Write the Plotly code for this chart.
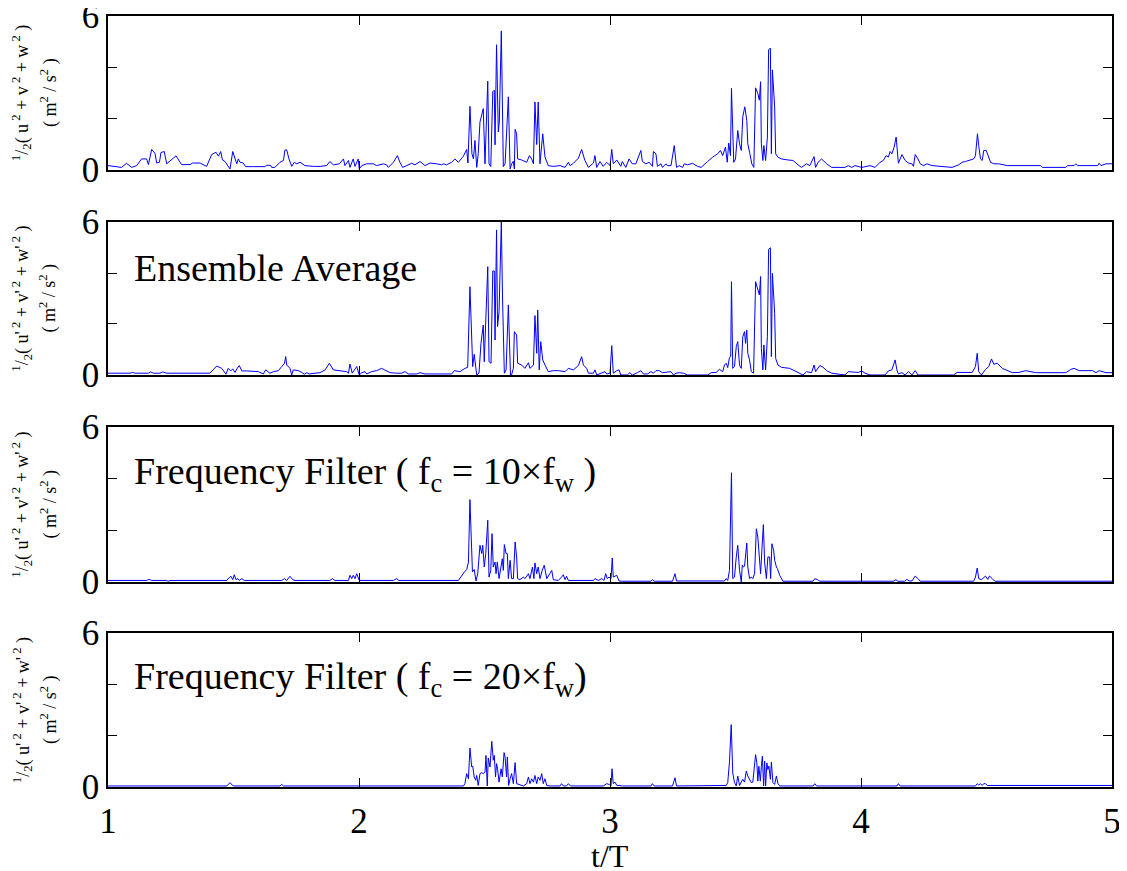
import plotly.graph_objects as go

# ---------------- data (t/T , value in m^2/s^2) ----------------
raw_pts = [(1.000,0.17),(1.035,0.14),(1.054,0.10),(1.074,0.26),(1.094,0.10),(1.114,0.17),(1.134,0.43),(1.154,0.43),(1.161,0.21),(1.174,0.80),(1.187,0.65),(1.194,0.27),(1.205,0.30),(1.211,0.68),(1.224,0.72),(1.234,0.24),(1.254,0.39),(1.271,0.55),(1.293,0.21),(1.327,0.21),(1.337,0.27),(1.367,0.27),(1.393,0.14),(1.413,0.60),(1.430,0.69),(1.440,0.54),(1.449,0.72),(1.456,0.39),(1.466,0.33),(1.486,0.04),(1.497,0.72),(1.503,0.50),(1.513,0.24),(1.519,0.43),(1.526,0.30),(1.539,0.27),(1.548,0.13),(1.579,0.13),(1.625,0.13),(1.632,0.18),(1.648,0.18),(1.652,0.10),(1.665,0.10),(1.685,0.30),(1.699,0.37),(1.705,0.78),(1.712,0.78),(1.721,0.43),(1.732,0.14),(1.742,0.30),(1.752,0.24),(1.765,0.30),(1.785,0.17),(1.818,0.14),(1.845,0.14),(1.871,0.17),(1.884,0.33),(1.898,0.20),(1.922,0.24),(1.938,0.43),(1.944,0.17),(1.958,0.37),(1.964,0.10),(1.977,0.43),(1.984,0.14),(1.997,0.43),(2.001,0.04),(2.011,0.17),(2.031,0.24),(2.057,0.24),(2.070,0.17),(2.097,0.24),(2.110,0.20),(2.117,0.10),(2.137,0.30),(2.153,0.56),(2.163,0.30),(2.174,0.10),(2.190,0.16),(2.210,0.26),(2.223,0.20),(2.243,0.33),(2.263,0.17),(2.283,0.27),(2.309,0.24),(2.329,0.20),(2.336,0.24),(2.349,0.20),(2.369,0.30),(2.382,0.43),(2.396,0.30),(2.416,0.54),(2.429,0.80),(2.434,0.27),(2.442,2.48),(2.450,0.63),(2.456,0.43),(2.462,1.15),(2.469,0.10),(2.475,0.63),(2.482,1.87),(2.489,2.13),(2.495,2.39),(2.502,0.24),(2.513,3.46),(2.518,0.24),(2.525,0.13),(2.533,3.05),(2.539,3.11),(2.542,0.98),(2.548,4.88),(2.555,1.48),(2.559,1.87),(2.567,5.42),(2.575,0.13),(2.582,0.24),(2.595,2.85),(2.602,0.04),(2.608,0.24),(2.615,0.34),(2.619,0.04),(2.622,1.58),(2.628,1.41),(2.632,0.43),(2.648,0.39),(2.668,0.30),(2.679,0.56),(2.688,0.43),(2.695,0.24),(2.701,2.65),(2.708,0.99),(2.714,2.65),(2.721,0.24),(2.732,1.41),(2.741,0.50),(2.754,0.17),(2.774,0.14),(2.801,0.17),(2.821,0.10),(2.834,0.30),(2.841,0.17),(2.854,0.26),(2.874,0.46),(2.887,0.80),(2.900,0.37),(2.914,0.10),(2.934,0.27),(2.940,0.56),(2.947,0.10),(2.960,0.33),(2.973,0.14),(2.987,0.30),(3.000,0.17),(3.007,0.80),(3.013,0.24),(3.027,0.39),
           (3.043,0.14),(3.049,0.33),(3.063,0.10),(3.076,0.43),(3.089,0.24),(3.103,0.24),(3.116,0.56),(3.123,0.76),(3.129,0.33),(3.143,0.24),(3.156,0.30),(3.169,0.14),(3.173,0.72),(3.183,0.63),(3.189,0.14),(3.203,0.24),(3.209,0.10),(3.223,0.24),(3.229,0.17),(3.243,0.17),(3.256,0.95),(3.265,0.10),(3.276,0.17),(3.289,0.10),(3.296,0.24),(3.309,0.20),(3.329,0.26),(3.349,0.14),(3.363,0.10),(3.376,0.20),(3.389,0.33),(3.409,0.50),(3.429,0.63),(3.440,0.76),(3.449,0.56),(3.460,0.89),(3.467,0.30),(3.473,1.05),(3.480,0.56),(3.484,3.18),(3.493,0.30),(3.500,0.43),(3.509,1.54),(3.516,1.02),(3.523,0.76),(3.529,2.07),(3.537,2.46),(3.545,1.93),(3.549,1.02),(3.556,0.69),(3.565,0.24),(3.573,0.10),(3.580,3.20),(3.589,2.98),(3.595,2.72),(3.600,3.44),(3.603,1.02),(3.609,0.37),(3.613,0.95),(3.620,0.37),(3.627,1.28),(3.632,4.68),(3.639,4.75),(3.643,0.63),(3.647,3.90),(3.656,2.46),(3.660,0.63),(3.669,0.50),(3.683,0.43),(3.709,0.39),(3.729,0.37),(3.749,0.20),(3.763,0.10),(3.783,0.24),(3.796,0.17),(3.813,0.52),(3.819,0.10),(3.829,0.30),(3.843,0.43),(3.863,0.24),(3.883,0.10),(3.936,0.10),(3.949,0.17),(3.963,0.10),(3.976,0.17),(4.003,0.10),(4.036,0.17),(4.056,0.10),(4.076,0.30),(4.089,0.37),(4.100,0.56),(4.109,0.50),(4.116,0.72),(4.123,0.63),(4.132,0.89),(4.140,1.28),(4.149,0.26),(4.163,0.60),(4.176,0.37),(4.189,0.27),(4.203,0.24),(4.209,0.14),(4.216,0.60),(4.227,0.43),(4.236,0.24),(4.249,0.17),(4.263,0.24),(4.283,0.17),(4.316,0.14),(4.336,0.10),(4.363,0.10),(4.389,0.20),(4.403,0.30),(4.416,0.33),(4.436,0.39),(4.449,0.43),(4.456,0.56),(4.464,1.41),(4.469,0.95),(4.476,0.43),(4.483,0.37),(4.489,0.76),(4.499,0.76),(4.507,0.50),(4.516,0.30),(4.529,0.24),(4.549,0.24),(4.583,0.17),(4.716,0.17),(4.723,0.10),(4.816,0.10),(4.823,0.17),(4.849,0.17),(4.856,0.24),(4.863,0.17),(4.943,0.17),(4.949,0.26),(4.956,0.17),(4.976,0.24),(5.000,0.24)]

ensemble_pts = [(1.000,0.07),(1.088,0.07),(1.097,0.10),(1.108,0.07),(1.161,0.07),(1.170,0.12),(1.181,0.07),(1.207,0.07),(1.218,0.12),(1.234,0.07),(1.406,0.07),(1.433,0.35),(1.453,0.26),(1.470,0.03),(1.479,0.26),(1.489,0.16),(1.497,0.24),(1.506,0.10),(1.515,0.26),(1.523,0.37),(1.533,0.16),(1.552,0.16),(1.599,0.13),(1.619,0.04),(1.628,0.20),(1.645,0.07),(1.659,0.13),(1.679,0.17),(1.692,0.33),(1.703,0.46),(1.708,0.72),(1.712,0.39),(1.725,0.26),(1.732,0.00),(1.738,0.20),(1.758,0.17),(1.772,0.10),(1.782,0.03),(1.792,0.09),(1.802,0.04),(1.825,0.07),(1.845,0.09),(1.865,0.20),(1.882,0.46),(1.898,0.20),(1.931,0.17),(1.951,0.13),(1.958,0.07),(1.964,0.43),(1.973,0.07),(1.991,0.33),(2.001,0.00),(2.011,0.09),(2.024,0.13),(2.031,0.04),(2.050,0.13),(2.070,0.17),(2.090,0.26),(2.104,0.20),(2.124,0.09),(2.150,0.07),(2.170,0.07),(2.183,0.13),(2.197,0.04),(2.230,0.04),(2.243,0.09),(2.263,0.04),(2.369,0.04),(2.380,0.17),(2.402,0.13),(2.422,0.26),(2.433,0.30),(2.442,3.46),(2.453,0.33),(2.459,0.81),(2.469,0.00),(2.478,0.07),(2.486,1.24),(2.495,1.96),(2.499,0.52),(2.513,4.25),(2.518,0.52),(2.526,0.46),(2.533,4.08),(2.539,4.08),(2.542,1.37),(2.548,5.69),(2.552,1.90),(2.558,2.48),(2.567,6.01),(2.572,2.94),(2.579,0.07),(2.586,0.20),(2.595,2.75),(2.604,-0.13),(2.611,0.07),(2.615,0.26),(2.619,1.70),(2.628,1.57),(2.632,0.46),(2.648,0.39),(2.661,0.26),(2.675,0.48),(2.681,0.26),(2.695,0.39),(2.701,2.33),(2.708,0.85),(2.712,2.55),(2.718,0.20),(2.724,1.31),(2.732,0.59),(2.741,0.39),(2.754,0.13),(2.774,0.17),(2.794,0.17),(2.821,0.13),(2.834,0.26),(2.854,0.20),(2.874,0.37),(2.887,0.72),(2.894,0.39),(2.907,0.26),(2.914,0.07),(2.934,0.07),(2.940,0.20),(2.947,0.00),(2.980,0.13),(2.987,0.04),(3.000,0.07),(3.007,1.15),(3.013,0.07),(3.027,0.17),
                (3.036,0.20),(3.043,0.00),(3.069,0.00),(3.079,0.09),(3.089,0.00),(3.109,0.09),(3.123,0.17),(3.133,0.04),(3.149,0.04),(3.163,0.13),(3.173,0.07),(3.183,0.17),(3.196,0.17),(3.209,0.09),(3.229,0.13),(3.243,0.13),(3.253,0.00),(3.263,0.07),(3.276,0.09),(3.293,0.07),(3.309,0.00),(3.389,0.00),(3.403,0.09),(3.423,0.10),(3.436,0.22),(3.449,0.13),(3.456,0.39),(3.463,0.46),(3.469,0.29),(3.476,0.69),(3.481,0.72),(3.484,3.66),(3.489,0.26),(3.496,0.33),(3.503,1.11),(3.509,1.31),(3.516,0.39),(3.523,0.26),(3.529,1.50),(3.536,1.70),(3.540,1.24),(3.545,1.76),(3.549,0.85),(3.556,0.59),(3.563,0.13),(3.572,0.07),(3.580,3.66),(3.589,3.33),(3.595,3.14),(3.600,3.86),(3.603,1.05),(3.609,0.20),(3.613,1.18),(3.620,0.20),(3.627,1.50),(3.632,4.93),(3.639,4.99),(3.643,0.72),(3.647,3.99),(3.656,2.42),(3.660,0.65),(3.669,0.39),(3.683,0.30),(3.716,0.26),(3.736,0.16),(3.749,0.07),(3.769,0.00),(3.783,0.13),(3.803,0.09),(3.813,0.39),(3.819,0.13),(3.836,0.37),(3.849,0.30),(3.863,0.17),(3.883,0.07),(3.936,0.00),(3.949,0.13),(3.989,0.10),(4.003,0.16),(4.016,0.07),(4.036,0.00),(4.096,0.00),(4.109,0.16),(4.123,0.20),(4.136,0.59),(4.143,0.20),(4.149,0.04),(4.163,0.09),(4.176,0.00),(4.189,0.13),(4.203,0.00),(4.216,0.17),(4.227,0.00),(4.369,0.00),(4.383,0.10),(4.443,0.10),(4.456,0.33),(4.463,0.85),(4.469,0.13),(4.480,0.00),(4.496,0.22),(4.509,0.33),(4.520,0.63),(4.529,0.42),(4.543,0.46),(4.563,0.26),(4.583,0.17),(4.603,0.09),(4.629,0.10),(4.656,0.17),(4.696,0.09),(4.816,0.09),(4.836,0.22),(4.849,0.26),(4.869,0.17),(4.923,0.17),(4.936,0.09),(4.949,0.17),(4.976,0.09),(5.000,0.09)]

filter10_pts = [(1.000,0.06),(1.154,0.06),(1.163,0.10),(1.174,0.06),(1.234,0.06),(1.240,0.03),(1.247,0.06),(1.473,0.06),(1.483,0.17),(1.490,0.22),(1.497,0.09),(1.503,0.28),(1.510,0.09),(1.517,0.13),(1.523,0.06),(1.533,0.13),(1.543,0.06),(1.692,0.06),(1.703,0.13),(1.712,0.06),(1.725,0.22),(1.736,0.09),(1.745,0.06),(1.884,0.06),(1.894,0.13),(1.904,0.06),(1.958,0.06),(1.964,0.26),(1.971,0.13),(1.977,0.26),(1.984,0.13),(1.991,0.32),(2.001,0.06),(2.137,0.06),(2.150,0.13),(2.159,0.06),(2.396,0.06),(2.409,0.26),(2.420,0.39),(2.429,0.48),(2.436,0.77),(2.442,3.19),(2.452,0.39),(2.459,0.48),(2.466,0.04),(2.473,0.32),(2.482,1.42),(2.489,1.10),(2.493,1.42),(2.499,0.58),(2.505,1.10),(2.513,2.39),(2.518,0.19),(2.525,0.45),(2.530,1.87),(2.535,0.58),(2.542,0.77),(2.546,0.32),(2.551,0.77),(2.558,0.13),(2.564,0.58),(2.571,0.90),(2.575,0.45),(2.579,1.45),(2.586,1.10),(2.591,1.10),(2.595,0.13),(2.602,0.84),(2.608,0.13),(2.615,0.13),(2.622,1.55),(2.628,0.97),(2.632,0.13),(2.641,0.09),(2.655,0.19),(2.661,0.13),(2.675,0.32),(2.681,0.13),(2.691,0.58),(2.697,0.13),(2.701,0.74),(2.708,0.32),(2.714,0.58),(2.721,0.13),(2.730,0.45),(2.738,0.65),(2.748,0.13),(2.757,0.26),(2.768,0.45),(2.774,0.09),(2.794,0.06),(2.807,0.19),(2.814,0.28),(2.821,0.09),(2.827,0.22),(2.834,0.06),(2.934,0.06),(2.940,0.13),(2.954,0.06),(2.967,0.13),(2.976,0.06),(2.983,0.32),(2.989,0.13),(2.996,0.19),(3.004,0.13),(3.009,0.93),(3.013,0.19),(3.027,0.26),
                (3.036,0.04),(3.049,0.03),(3.163,0.03),(3.169,0.09),(3.176,0.03),(3.249,0.03),(3.259,0.32),(3.265,0.04),(3.456,0.04),(3.463,0.13),(3.469,0.06),(3.476,0.45),(3.484,4.23),(3.489,0.13),(3.496,0.19),(3.503,0.97),(3.509,1.42),(3.516,0.45),(3.523,0.00),(3.527,0.65),(3.532,0.58),(3.536,0.61),(3.540,1.10),(3.545,1.51),(3.549,0.58),(3.556,0.13),(3.563,0.19),(3.569,0.13),(3.576,0.32),(3.583,2.06),(3.589,1.74),(3.596,0.77),(3.600,0.32),(3.605,1.23),(3.611,2.22),(3.616,0.77),(3.623,0.13),(3.629,0.97),(3.636,0.97),(3.640,0.13),(3.645,1.48),(3.652,1.23),(3.656,0.84),(3.663,0.58),(3.667,0.52),(3.676,0.26),(3.683,0.13),(3.689,0.03),(3.809,0.03),(3.816,0.13),(3.827,0.09),(3.836,0.03),(4.129,0.03),(4.139,0.09),(4.147,0.03),(4.173,0.03),(4.183,0.10),(4.192,0.04),(4.203,0.04),(4.216,0.23),(4.227,0.13),(4.236,0.03),(4.449,0.03),(4.456,0.19),(4.463,0.54),(4.469,0.13),(4.480,0.09),(4.489,0.15),(4.496,0.23),(4.505,0.10),(4.512,0.23),(4.523,0.13),(4.533,0.03),(5.000,0.03)]

filter20_pts = [(1.000,0.04),(1.473,0.04),(1.486,0.17),(1.499,0.04),(1.685,0.04),(1.692,0.10),(1.699,0.04),(2.416,0.04),(2.422,0.13),(2.429,0.52),(2.436,0.32),(2.442,1.52),(2.449,0.78),(2.453,0.82),(2.459,0.39),(2.465,0.26),(2.469,0.45),(2.475,0.06),(2.482,0.52),(2.489,0.56),(2.495,0.52),(2.502,0.58),(2.506,1.23),(2.511,0.04),(2.515,1.13),(2.522,0.78),(2.529,1.78),(2.535,1.04),(2.539,1.23),(2.544,0.39),(2.548,0.91),(2.552,0.71),(2.558,0.19),(2.562,0.58),(2.566,0.71),(2.571,0.39),(2.578,1.34),(2.582,1.17),(2.588,0.39),(2.591,1.17),(2.596,0.06),(2.602,0.32),(2.608,0.52),(2.615,0.13),(2.622,0.95),(2.628,0.13),(2.635,0.10),(2.644,0.06),(2.655,0.04),(2.668,0.13),(2.675,0.39),(2.681,0.13),(2.688,0.32),(2.695,0.19),(2.701,0.45),(2.708,0.13),(2.714,0.39),(2.721,0.26),(2.728,0.52),(2.734,0.13),(2.741,0.32),(2.748,0.06),(2.761,0.04),(2.801,0.04),(2.807,0.13),(2.814,0.04),(2.827,0.04),(2.834,0.13),(2.843,0.04),(2.973,0.04),(2.987,0.13),(2.997,0.10),(3.004,0.04),(3.008,0.71),(3.013,0.13),(3.020,0.19),(3.027,0.06),
                (3.036,0.06),(3.049,0.04),(3.163,0.04),(3.169,0.13),(3.176,0.04),(3.249,0.04),(3.259,0.36),(3.265,0.04),(3.463,0.06),(3.469,0.17),(3.476,0.98),(3.483,2.43),(3.489,0.55),(3.496,0.17),(3.503,0.04),(3.509,0.43),(3.516,0.06),(3.523,0.23),(3.529,0.30),(3.536,0.19),(3.543,0.62),(3.549,0.43),(3.556,0.32),(3.563,0.17),(3.569,0.19),(3.576,0.81),(3.580,1.26),(3.585,0.94),(3.589,0.23),(3.593,0.81),(3.599,0.23),(3.603,0.81),(3.607,1.20),(3.612,0.04),(3.616,1.01),(3.620,0.04),(3.625,0.94),(3.629,0.68),(3.633,0.81),(3.639,0.30),(3.643,0.97),(3.649,0.17),(3.656,0.10),(3.663,0.43),(3.669,0.14),(3.676,0.04),(3.809,0.04),(3.816,0.13),(3.823,0.04),(4.143,0.04),(4.149,0.13),(4.156,0.04),(4.456,0.04),(4.463,0.13),(4.469,0.08),(4.476,0.13),(4.483,0.06),(4.489,0.13),(4.496,0.13),(4.503,0.06),(5.000,0.06)]

x_ticks = [1, 2, 3, 4, 5]
y_ticks = [0, 2, 4, 6]
y_ticktext = ["0", "", "", "6"]
panel_labels = ["", "Ensemble Average",
                "Frequency Filter ( f<sub>c</sub> = 10×f<sub>w</sub> )",
                "Frequency Filter ( f<sub>c</sub> = 20×f<sub>w</sub>)"]
ylabel_line1 = ["<sup>1</sup>/<sub>2</sub>( u<sup> 2</sup> + v<sup> 2</sup> + w<sup> 2</sup> )"] + \
               ["<sup>1</sup>/<sub>2</sub>( u'<sup> 2</sup> + v'<sup> 2</sup> + w'<sup> 2</sup> )"] * 3
ylabel_line2 = "( m<sup>2</sup> / s<sup>2</sup> )"
x_title = "t/T"

series = [raw_pts, ensemble_pts, filter10_pts, filter20_pts]

# ---------------- figure ----------------
FONT = "Liberation Serif"
domains = [(0.8003, 1.0), (0.5344, 0.7328), (0.2659, 0.4669), (0.0, 0.1997)]

fig = go.Figure()
# the page body adds an 8 px margin, so the figure is 8 px smaller and margins compensate
layout = dict(
    width=1119, height=863,
    margin=dict(l=100, r=15, t=8, b=84, autoexpand=False),
    paper_bgcolor="white", plot_bgcolor="white",
    showlegend=False,
    font=dict(family=FONT, size=34, color="black"),
)

annotations = []
for i, pts in enumerate(series):
    n = i + 1
    sx = "" if n == 1 else str(n)
    t = [p[0] for p in pts]
    v = [p[1] for p in pts]
    fig.add_trace(go.Scatter(x=t, y=v, mode="lines",
                             line=dict(color="#0000FF", width=1),
                             xaxis="x" + sx, yaxis="y" + sx, hoverinfo="skip"))
    common = dict(showline=True, linecolor="black", linewidth=1.5, mirror="ticks",
                  ticks="inside", ticklen=9, tickwidth=1, tickcolor="black",
                  showgrid=False, zeroline=False, automargin=False,
                  ticklabeloverflow="allow")
    layout["xaxis" + sx] = dict(common, domain=[0, 1], range=[1, 5], anchor="y" + sx,
                                tickvals=x_ticks, showticklabels=(n == 4),
                                ticklabelstandoff=2,
                                tickfont=dict(family=FONT, size=35))
    layout["yaxis" + sx] = dict(common, domain=list(domains[i]), range=[0, 6], anchor="x" + sx,
                                tickvals=y_ticks, ticktext=y_ticktext,
                                tickfont=dict(family=FONT, size=35))
    if panel_labels[i]:
        annotations.append(dict(text=panel_labels[i], xref="x" + sx + " domain", yref="y" + sx + " domain",
                                x=0.024, y=0.70, xanchor="left", yanchor="middle", showarrow=False,
                                font=dict(family=FONT, size=38, color="black")))
    ymid = (domains[i][0] + domains[i][1]) / 2
    annotations.append(dict(text=ylabel_line1[i], xref="paper", yref="paper",
                            x=(22 - 108) / 1004, y=ymid, xanchor="center", yanchor="middle",
                            textangle=-90, showarrow=False,
                            font=dict(family=FONT, size=18, color="black")))
    annotations.append(dict(text=ylabel_line2, xref="paper", yref="paper",
                            x=(49 - 108) / 1004, y=ymid, xanchor="center", yanchor="middle",
                            textangle=-90, showarrow=False,
                            font=dict(family=FONT, size=18, color="black")))

annotations.append(dict(text=x_title, xref="paper", yref="paper", x=0.5, y=(787 - 856) / 771,
                        xanchor="center", yanchor="middle", showarrow=False,
                        font=dict(family=FONT, size=32, color="black")))
layout["annotations"] = annotations
fig.update_layout(**layout)
fig.write_html("out.html")
